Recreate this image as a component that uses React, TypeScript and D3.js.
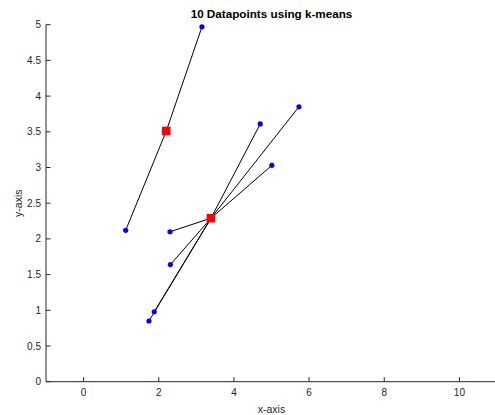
import React from "react";
import * as d3 from "d3";

const pointX = [3.15, 1.12, 2.30, 2.31, 1.88, 1.74, 4.70, 5.73, 5.01];
const pointY = [4.97, 2.12, 2.10, 1.64, 0.98, 0.85, 3.61, 3.85, 3.03];
const pointCluster = [0, 0, 1, 1, 1, 1, 1, 1, 1];
const centroidX = [2.20, 3.39];
const centroidY = [3.51, 2.29];
const xTicks = [0, 2, 4, 6, 8, 10];
const yTicks = [0, 0.5, 1, 1.5, 2, 2.5, 3, 3.5, 4, 4.5, 5];

const W = 495, H = 415;
const M = { left: 46, right: 497, top: 24.7, bottom: 381.7 };

export default function App() {
  const x = d3.scaleLinear().domain([-1, 11]).range([M.left, M.right]);
  const y = d3.scaleLinear().domain([0, 5]).range([M.bottom, M.top]);
  const axisColor = "#262626";
  const font = "'Liberation Sans', Arial, Helvetica, sans-serif";
  return (
    <svg width={W} height={H} style={{ position: "absolute", left: 0, top: 0, background: "#fff" }}>
      <rect x={0} y={0} width={W} height={H} fill="#fff" />
      {pointX.map((px, i) => {
        const c = pointCluster[i];
        return (
          <line key={"l" + i} x1={x(px)} y1={y(pointY[i])} x2={x(centroidX[c])} y2={y(centroidY[c])}
            stroke="#000" strokeWidth={1} />
        );
      })}
      {pointX.map((px, i) => (
        <circle key={"p" + i} cx={x(px)} cy={y(pointY[i])} r={2.6} fill="#0000ff" />
      ))}
      {centroidX.map((cx, i) => (
        <rect key={"c" + i} x={x(cx) - 4.3} y={y(centroidY[i]) - 4.3} width={8.6} height={8.6} fill="#ff0000" />
      ))}
      <line x1={M.left} y1={M.bottom} x2={M.right} y2={M.bottom} stroke={axisColor} strokeWidth={1} />
      <line x1={M.left} y1={M.bottom} x2={M.left} y2={M.top} stroke={axisColor} strokeWidth={1} />
      {xTicks.map((t) => (
        <g key={"xt" + t}>
          <line x1={x(t)} x2={x(t)} y1={M.bottom} y2={M.bottom - 4.5} stroke={axisColor} strokeWidth={1} />
          <text x={x(t)} y={M.bottom + 14} textAnchor="middle" fontSize={10} fill={axisColor} fontFamily={font}>{t}</text>
        </g>
      ))}
      {yTicks.map((t) => (
        <g key={"yt" + t}>
          <line x1={M.left} x2={M.left + 4.5} y1={y(t)} y2={y(t)} stroke={axisColor} strokeWidth={1} />
          <text x={M.left - 5} y={y(t) + 3.5} textAnchor="end" fontSize={10} fill={axisColor} fontFamily={font}>{t}</text>
        </g>
      ))}
      <text x={(M.left + M.right) / 2} y={412.5} textAnchor="middle" fontSize={10.5} fill={axisColor} fontFamily={font}>x-axis</text>
      <text transform={`translate(21.5,${(M.top + M.bottom) / 2}) rotate(-90)`} textAnchor="middle" fontSize={10.5} fill={axisColor} fontFamily={font}>y-axis</text>
      <text x={(M.left + M.right) / 2} y={17.5} textAnchor="middle" fontSize={11.7} fontWeight="bold" fill="#000" fontFamily={font}>10 Datapoints using k-means</text>
    </svg>
  );
}
